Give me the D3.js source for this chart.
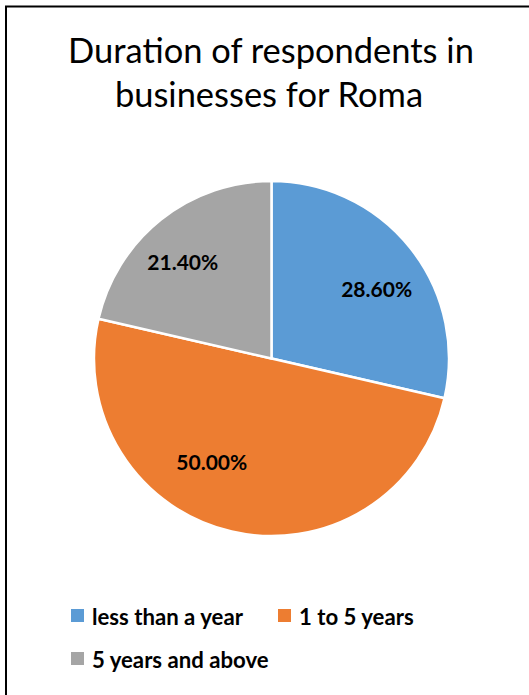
<!DOCTYPE html>
<html>
<head>
<meta charset="utf-8">
<script src="https://cdn.jsdelivr.net/npm/d3@7"></script>
<style>
  html, body { margin: 0; padding: 0; background: #fff; }
  svg { display: block; }
  text { font-family: Lato, "Open Sans", "Noto Sans", sans-serif; fill: #000; }
</style>
</head>
<body>
<svg id="chart" width="529" height="695"></svg>
<script>
// Chart data
const titleLines = ["Duration of respondents in", "businesses for Roma"];
const categories = ["less than a year", "1 to 5 years", "5 years and above"];
const shares = [28.6, 50.0, 21.4];
const colors = ["#5B9BD5", "#ED7D31", "#A5A5A5"];

// Layout
const W = 529, H = 695;
const cx = 271.5, cy = 358.5, R = 177.5, labelR = 128;
// small per-slice nudges for the value labels (x, y in px)
const labelNudge = [[5, 11], [-31, -21], [-9, 4]];

const svg = d3.select("#chart");

// chart frame (continues past the right and bottom edges)
svg.append("rect")
  .attr("x", 6).attr("y", 6.5)
  .attr("width", W + 20).attr("height", H + 20)
  .attr("fill", "#fff").attr("stroke", "#000").attr("stroke-width", 2);

// scale a text element so its rendered width equals target
function fitSize(sel, target, base) {
  sel.style("font-size", base + "px");
  const w = sel.node().getComputedTextLength();
  return base * target / w;
}

// Title
const t1 = svg.append("text").attr("text-anchor", "middle")
  .attr("x", 271).attr("y", 63).text(titleLines[0]);
const titleSize = fitSize(t1, 406, 30);
t1.style("font-size", titleSize + "px");
svg.append("text").attr("text-anchor", "middle")
  .attr("x", 269).attr("y", 107).style("font-size", titleSize + "px")
  .text(titleLines[1]);

// Pie
const color = d3.scaleOrdinal().domain(categories).range(colors);
const pie = d3.pie().sort(null).value(d => d.v);
const data = categories.map((c, i) => ({ c, v: shares[i], i }));
const arcs = pie(data);
const arc = d3.arc().innerRadius(0).outerRadius(R);
const labelArc = d3.arc().innerRadius(labelR).outerRadius(labelR);

const g = svg.append("g").attr("transform", `translate(${cx},${cy})`);
g.selectAll("path.slice").data(arcs).join("path")
  .attr("class", "slice")
  .attr("d", arc)
  .attr("fill", d => color(d.data.c))
  .attr("stroke", "#fff")
  .attr("stroke-width", 2.5)
  .attr("stroke-linejoin", "round");

const fmt = d3.format(".2f");
const labels = g.selectAll("text.val").data(arcs).join("text")
  .attr("class", "val")
  .attr("text-anchor", "middle")
  .attr("dy", "0.36em")
  .style("font-weight", "bold")
  .attr("x", d => labelArc.centroid(d)[0] + labelNudge[d.data.i][0])
  .attr("y", d => labelArc.centroid(d)[1] + labelNudge[d.data.i][1])
  .text(d => fmt(d.data.v) + "%");
const valSize = fitSize(d3.select(labels.nodes()[0]), 71, 20);
labels.style("font-size", valSize + "px");

// Legend
const legendPos = [[71, 609], [278, 609], [71, 652]];
const lg = svg.append("g");
const items = lg.selectAll("g").data(categories).join("g")
  .attr("transform", (d, i) => `translate(${legendPos[i][0]},${legendPos[i][1]})`);
items.append("rect").attr("width", 13).attr("height", 13)
  .attr("fill", d => color(d));
const ltext = items.append("text")
  .attr("x", 21).attr("y", 16)
  .style("font-weight", "bold")
  .text(d => d);
const legSize = fitSize(d3.select(ltext.nodes()[0]), 151, 18);
ltext.style("font-size", legSize + "px");
</script>
</body>
</html>
